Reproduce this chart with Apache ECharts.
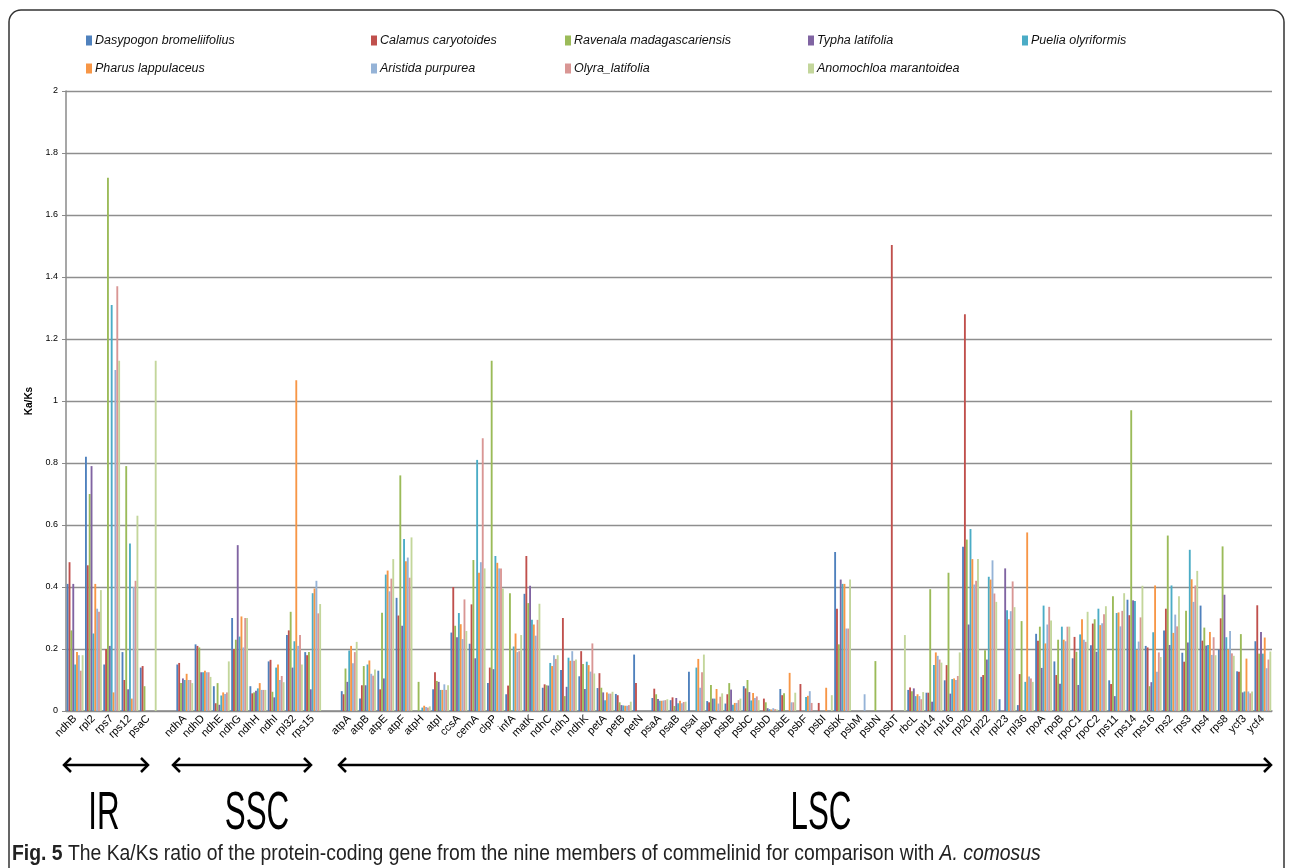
<!DOCTYPE html>
<html>
<head>
<meta charset="utf-8">
<script src="https://cdn.jsdelivr.net/npm/echarts@6/dist/echarts.min.js"></script>
<style>
  html, body { margin: 0; padding: 0; background: #fff; }
  #main { width: 1292px; height: 868px; }
</style>
</head>
<body>
<div id="main"></div>
<script>
// genes, IR / SSC / LSC separated by an empty slot
const genes = [
  'ndhB', 'rpl2', 'rps7', 'rps12', 'psaC', '',
  'ndhA', 'ndhD', 'ndhE', 'ndhG', 'ndhH', 'ndhI', 'rpl32', 'rps15', ' ',
  'atpA', 'atpB', 'atpE', 'atpF', 'atpH', 'atpI', 'ccsA', 'cemA', 'clpP', 'infA',
  'matK', 'ndhC', 'ndhJ', 'ndhK', 'petA', 'petB', 'petN', 'psaA', 'psaB', 'psaI',
  'psbA', 'psbB', 'psbC', 'psbD', 'psbE', 'psbF', 'psbI', 'psbK', 'psbM', 'psbN',
  'psbT', 'rbcL', 'rpl14', 'rpl16', 'rpl20', 'rpl22', 'rpl23', 'rpl36', 'rpoA', 'rpoB',
  'rpoC1', 'rpoC2', 'rps11', 'rps14', 'rps16', 'rps2', 'rps3', 'rps4', 'rps8', 'ycf3', 'ycf4'
]

const yTicks = [0, 0.2, 0.4, 0.6, 0.8, 1, 1.2, 1.4, 1.6, 1.8, 2]

const dasypogon = [
  0.41, 0.82, 0.15, 0.19, 0.14, null,
  0.15, 0.215, 0.08, 0.30, 0.08, 0.16, 0.245, 0.19, null,
  0.064, 0.04, 0.13, 0.365, 0, 0.07, 0.253, 0.217, 0.09, 0.054,
  0.378, 0.075, 0.132, 0.112, 0.074, 0.055, 0.182, 0.042, 0.035, 0.127,
  0.032, 0.024, 0.08, 0, 0.071, 0, 0, 0.513, 0, 0,
  0, 0.068, 0.059, 0.099, 0.53, 0.11, 0.038, 0.019, 0.249, 0.16,
  0.17, 0.212, 0.099, 0.359, 0.21, 0.26, 0.188, 0.34, 0.198, 0.128, 0.225
]
const calamus = [
  0.48, 0.47, 0.20, 0.10, 0.145, null,
  0.155, 0.21, 0.025, 0.20, 0.057, 0.165, 0.26, 0.18, null,
  0.054, 0.083, 0.07, 0.308, 0, 0.125, 0.40, 0.344, 0.14, 0.082,
  0.50, 0.086, 0.30, 0.193, 0.122, 0.051, 0.09, 0.072, 0.044, 0,
  0.028, 0.054, 0.073, 0.04, 0.051, 0.087, 0.026, 0.33, 0, 0,
  1.503, 0.076, 0.059, 0.148, 1.28, 0.116, 0, 0.119, 0.227, 0.116,
  0.239, 0.282, 0.087, 0.309, 0.205, 0.33, 0.159, 0.227, 0.299, 0.127, 0.341
]
const ravenala = [
  0.26, 0.70, 1.72, 0.79, 0.08, null,
  0.09, 0.205, 0.09, 0.23, 0.06, 0.062, 0.32, 0.19, null,
  0.137, 0.145, 0.317, 0.76, 0.094, 0.097, 0.275, 0.487, 1.13, 0.38,
  0.348, 0.083, 0.048, 0.152, 0.075, 0.028, 0, 0.054, 0.016, 0,
  0.084, 0.09, 0.10, 0.028, 0.057, 0, 0, 0.215, 0, 0.161,
  0, 0.064, 0.393, 0.446, 0.553, 0.196, 0, 0.29, 0.272, 0.23,
  0.191, 0.296, 0.37, 0.97, 0.08, 0.566, 0.323, 0.269, 0.531, 0.248, 0.185
]
const typha = [
  0.41, 0.79, 0.21, 0.07, 0, null,
  0.105, 0.125, 0.02, 0.535, 0.065, 0.044, 0.14, 0.07, null,
  0.094, 0.083, 0.105, 0.275, 0, 0.094, 0.238, 0.17, 0.135, 0,
  0.404, 0.082, 0.078, 0.071, 0.06, 0.019, 0, 0.039, 0.042, 0,
  0.04, 0.069, 0.061, 0.009, 0, 0, 0, 0.424, 0, 0,
  0, 0.073, 0.03, 0.056, 0.279, 0.166, 0.46, 0, 0.139, 0.088,
  0.084, 0.191, 0.048, 0.357, 0.093, 0.213, 0.221, 0.211, 0.375, 0.06, 0.255
]
const puelia = [
  0.15, 0.25, 1.31, 0.54, 0, null,
  0.10, 0.125, 0.05, 0.24, 0.073, 0.14, 0.225, 0.38, null,
  0.195, 0.15, 0.44, 0.555, 0.011, 0.068, 0.316, 0.81, 0.50, 0.208,
  0.294, 0.155, 0.172, 0.159, 0.035, 0.018, 0, 0.033, 0.025, 0.14,
  0.04, 0.02, 0.034, 0.006, 0, 0.045, 0, 0.41, 0, 0,
  0, 0.048, 0.148, 0.103, 0.587, 0.433, 0.325, 0.094, 0.34, 0.272,
  0.247, 0.33, 0.316, 0.355, 0.254, 0.405, 0.52, 0.213, 0.238, 0.063, 0.185
]
const pharus = [
  0.19, 0.41, 0.06, 0.04, 0, null,
  0.12, 0.13, 0.06, 0.305, 0.09, 0.15, 1.067, 0.395, null,
  0.21, 0.163, 0.453, 0.483, 0.017, 0.068, 0.28, 0.446, 0.478, 0.25,
  0.279, 0.145, 0.162, 0.148, 0.06, 0.017, 0, 0.033, 0.033, 0.168,
  0.071, 0.026, 0.058, 0.005, 0.123, 0.049, 0.075, 0.41, 0, 0,
  0, 0.054, 0.189, 0.105, 0.49, 0.424, 0.296, 0.576, 0.218, 0.23,
  0.296, 0.277, 0.318, 0.197, 0.405, 0.252, 0.425, 0.255, 0.198, 0.169, 0.237
]
const aristida = [
  0.18, 0.33, 1.10, 0.40, 0, null,
  0.10, 0.125, 0.055, 0.205, 0.068, 0.10, 0.21, 0.42, null,
  0.154, 0.12, 0.386, 0.495, 0.013, 0.086, 0.232, 0.48, 0.46, 0.19,
  0.243, 0.18, 0.193, 0.127, 0.056, 0.017, 0, 0.034, 0.025, 0.075,
  0.024, 0.026, 0.042, 0.009, 0.028, 0.064, 0, 0.266, 0.054, 0,
  0, 0.048, 0.178, 0.10, 0.408, 0.486, 0.322, 0.111, 0.279, 0.225,
  0.23, 0.283, 0.273, 0.224, 0.127, 0.311, 0.352, 0.181, 0.258, 0.063, 0.138
]
const olyra = [
  0.13, 0.32, 1.37, 0.42, 0, null,
  0.10, 0.125, 0.06, 0.30, 0.068, 0.113, 0.245, 0.315, null,
  0.19, 0.114, 0.427, 0.43, 0.011, 0.068, 0.36, 0.88, 0.46, 0.193,
  0.294, 0.168, 0.162, 0.218, 0.056, 0.019, 0, 0.035, 0.029, 0.125,
  0.046, 0.035, 0.047, 0.006, 0.028, 0.026, 0, 0.266, 0, 0,
  0, 0.038, 0.166, 0.113, 0.42, 0.379, 0.418, 0.105, 0.336, 0.272,
  0.223, 0.312, 0.323, 0.302, 0.189, 0.273, 0.405, 0.238, 0.186, 0.057, 0.166
]
const anomochloa = [
  0.18, 0.39, 1.13, 0.63, 1.13, null,
  0.09, 0.11, 0.16, 0.30, 0.068, 0.093, 0.15, 0.345, null,
  0.223, 0.134, 0.49, 0.56, 0.015, 0.083, 0.258, 0.46, 0.395, 0.245,
  0.346, 0.18, 0.166, 0.121, 0.062, 0.03, 0, 0.038, 0.03, 0.182,
  0.057, 0.04, 0.035, 0.005, 0.059, 0, 0.051, 0.424, 0, 0,
  0.245, 0.061, 0.156, 0.189, 0.49, 0.352, 0.335, 0.094, 0.292, 0.272,
  0.32, 0.338, 0.38, 0.404, 0.174, 0.37, 0.452, 0.18, 0.178, 0.063, 0.192
]

const speciesNames = [
  'Dasypogon bromeliifolius', 'Calamus caryotoides', 'Ravenala madagascariensis',
  'Typha latifolia', 'Puelia olyriformis', 'Pharus lappulaceus',
  'Aristida purpurea', 'Olyra_latifolia', 'Anomochloa marantoidea'
]
const speciesData = [dasypogon, calamus, ravenala, typha, puelia, pharus, aristida, olyra, anomochloa]
const colors = ['#4F81BD', '#C0504D', '#9BBB59', '#8064A2', '#4BACC6', '#F79646', '#95B3D7', '#D99694', '#C3D69B']

const font = 'Liberation Sans, Arial, sans-serif'

function legendCol (left, names) {
  return {
    left: left,
    top: 29,
    orient: 'vertical',
    itemGap: 15,
    itemWidth: 6,
    itemHeight: 10,
    icon: 'rect',
    data: names,
    textStyle: { fontFamily: font, fontSize: 12.5, fontStyle: 'italic', color: '#111', padding: [0, 0, 0, -2] }
  }
}

// arrow with open heads at both ends
function arrow (x1, x2, y) {
  const h = 7
  const lineStyle = { stroke: '#000', lineWidth: 2.5, fill: null, lineJoin: 'miter' }
  return [
    { type: 'polyline', shape: { points: [[x1, y], [x2, y]] }, style: lineStyle },
    { type: 'polyline', shape: { points: [[x1 + h, y - h], [x1, y], [x1 + h, y + h]] }, style: lineStyle },
    { type: 'polyline', shape: { points: [[x2 - h, y - h], [x2, y], [x2 - h, y + h]] }, style: lineStyle }
  ]
}

// big region names, squeezed to look like a condensed face
function regionText (x, text) {
  return {
    type: 'text',
    x: x,
    y: 814,
    scaleX: 0.58,
    style: { text: text, fontFamily: font, fontSize: 54, fill: '#000', textAlign: 'center', textVerticalAlign: 'middle' }
  }
}

const myChart = echarts.init(document.getElementById('main'), null, { renderer: 'canvas' })

myChart.setOption({
  animation: false,
  color: colors,
  grid: {
    left: 66,
    right: 20,
    top: 91,
    bottom: 157
  },
  legend: [
    legendCol(81, [speciesNames[0], speciesNames[5]]),
    legendCol(366, [speciesNames[1], speciesNames[6]]),
    legendCol(560, [speciesNames[2], speciesNames[7]]),
    legendCol(803, [speciesNames[3], speciesNames[8]]),
    legendCol(1017, [speciesNames[4]])
  ],
  xAxis: {
    type: 'category',
    data: genes,
    axisLine: { lineStyle: { color: '#8a8a8a', width: 1.5 } },
    axisTick: { interval: 0, length: 5, lineStyle: { color: '#8a8a8a', width: 1.2 } },
    axisLabel: {
      interval: 0,
      rotate: 45,
      margin: 6,
      fontFamily: font,
      fontSize: 11,
      color: '#000'
    }
  },
  yAxis: {
    type: 'value',
    min: yTicks[0],
    max: yTicks[yTicks.length - 1],
    interval: 0.2,
    name: 'Ka/Ks',
    nameLocation: 'middle',
    nameGap: 26,
    nameTextStyle: { fontFamily: font, fontSize: 10, fontWeight: 'bold', color: '#000' },
    axisLine: { show: true, lineStyle: { color: '#8a8a8a', width: 1.5 } },
    axisTick: { show: true, length: 4, lineStyle: { color: '#8a8a8a' } },
    axisLabel: { fontFamily: font, fontSize: 9, color: '#000', margin: 8 },
    splitLine: { lineStyle: { color: '#8e8e8e', width: 1.3 } }
  },
  series: speciesData.map((d, i) => ({
    name: speciesNames[i],
    type: 'bar',
    data: d,
    barGap: '0%',
    barCategoryGap: '8%',
    itemStyle: { color: colors[i] }
  })),
  graphic: [
    {
      type: 'rect',
      shape: { x: 9, y: 10, width: 1275, height: 900, r: 12 },
      style: { fill: null, stroke: '#333', lineWidth: 1.5 },
      silent: true
    },
    ...arrow(64, 148, 765),
    ...arrow(173, 311, 765),
    ...arrow(339, 1271, 765),
    regionText(104, 'IR'),
    regionText(257, 'SSC'),
    regionText(821, 'LSC'),
    {
      type: 'text',
      x: 12,
      y: 854,
      scaleX: 0.88,
      style: {
        text: '{b|Fig. 5} The Ka/Ks ratio of the protein-coding gene from the nine members of commelinid for comparison with {i|A. comosus}',
        fontFamily: font,
        fontSize: 22,
        fill: '#222',
        textVerticalAlign: 'middle',
        rich: {
          b: { fontFamily: font, fontSize: 22, fontWeight: 'bold', fill: '#222' },
          i: { fontFamily: font, fontSize: 22, fontStyle: 'italic', fill: '#222' }
        }
      }
    }
  ]
})
</script>
</body>
</html>
